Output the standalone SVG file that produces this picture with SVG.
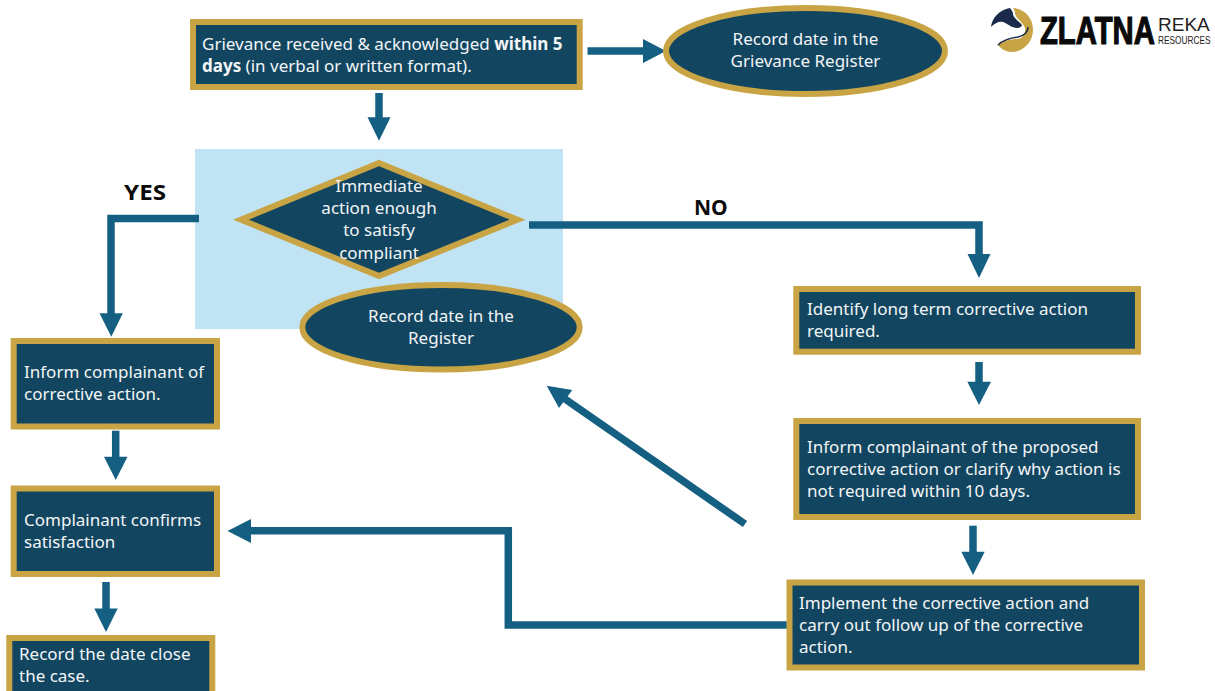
<svg xmlns="http://www.w3.org/2000/svg" width="1215" height="691" viewBox="0 0 1215 691">
<style>
.n{fill:#124660;stroke:#c9a444;stroke-width:6}
.t{font-family:"Noto Sans","Liberation Sans",sans-serif;font-size:17px;fill:#f2f5f7}
.m{text-anchor:middle}
.l{font-family:"Noto Sans","Liberation Sans",sans-serif;font-size:21px;font-weight:700;fill:#0a0a0a}
.c{fill:none;stroke:#156082;stroke-width:7.500}
.h{fill:#156082}
</style>
<rect width="1215" height="691" fill="#fff"/>
<rect id="highlight" x="195" y="149" width="368" height="180" fill="#c1e4f5"/>
<g id="connectors">
<path class="c" d="M587.500 51H645"/><path class="h" d="M643 39L666 51L643 63Z"/>
<path class="c" d="M379 93V119"/><path class="h" d="M367.500 117.300H390.500L379 140.700Z"/>
<path class="c" d="M199 218.500H111V315"/><path class="h" d="M99.500 313.300H122.800L111.300 336.700Z"/>
<path class="c" d="M529 225H979V256"/><path class="h" d="M967.500 254H990.500L979 278Z"/>
<path class="c" d="M115.700 430.700V458"/><path class="h" d="M104 456.700H127.500L115.700 480Z"/>
<path class="c" d="M106 582V610"/><path class="h" d="M94.300 608.500H117.700L106 632Z"/>
<path class="c" d="M979 362V384"/><path class="h" d="M967.300 381.700H991L979 405Z"/>
<path class="c" d="M973 525.700V553"/><path class="h" d="M961.300 551.700H984.700L973 575Z"/>
<path class="c" d="M745 524L565 399"/><path class="h" d="M546.700 385.700L572.300 390L559 408Z"/>
<path class="c" d="M790 625H508.300V530.700H248"/><path class="h" d="M251 519V543L227.500 531Z"/>
</g>
<g id="n1"><rect class="n" x="193" y="22" width="386.700" height="65"/><text class="t" x="202" y="50">Grievance received &amp; acknowledged <tspan font-weight="700">within 5</tspan></text><text class="t" x="202" y="72"><tspan font-weight="700">days</tspan> (in verbal or written format).</text></g>
<g id="n2"><ellipse class="n" cx="805.500" cy="51" rx="139.500" ry="43"/><text class="t m" x="805.500" y="45">Record date in the</text><text class="t m" x="805.500" y="67">Grievance Register</text></g>
<g id="n3"><path class="n" d="M379 163L517.500 219.700L379 276L241 219.700Z"/><text class="t m" x="379" y="192">Immediate</text><text class="t m" x="379" y="214">action enough</text><text class="t m" x="379" y="236">to satisfy</text><text class="t m" x="379" y="259">compliant</text></g>
<g id="n4"><ellipse class="n" cx="441" cy="327.300" rx="138.700" ry="42.300"/><text class="t m" x="441" y="322">Record date in the</text><text class="t m" x="441" y="344">Register</text></g>
<g id="n5"><rect class="n" x="13.700" y="341" width="203.300" height="85.500"/><text class="t" x="24" y="378">Inform complainant of</text><text class="t" x="24" y="400">corrective action.</text></g>
<g id="n6"><rect class="n" x="13.700" y="488.500" width="203.300" height="85.500"/><text class="t" x="24" y="526">Complainant confirms</text><text class="t" x="24" y="548">satisfaction</text></g>
<g id="n7"><rect class="n" x="9.300" y="638" width="203" height="56"/><text class="t" x="19" y="660">Record the date close</text><text class="t" x="19" y="682">the case.</text></g>
<g id="n8"><rect class="n" x="796.300" y="289" width="341.700" height="62.700"/><text class="t" x="807" y="315">Identify long term corrective action</text><text class="t" x="807" y="337">required.</text></g>
<g id="n9"><rect class="n" x="796.300" y="421" width="341.700" height="96"/><text class="t" x="807" y="453">Inform complainant of the proposed</text><text class="t" x="807" y="475">corrective action or clarify why action is</text><text class="t" x="807" y="497">not required within 10 days.</text></g>
<g id="n10"><rect class="n" x="789.500" y="582.500" width="352.500" height="85"/><text class="t" x="799" y="609">Implement the corrective action and</text><text class="t" x="799" y="631">carry out follow up of the corrective</text><text class="t" x="799" y="653">action.</text></g>
<text class="l" x="124" y="200" textLength="42" lengthAdjust="spacingAndGlyphs">YES</text>
<text class="l" x="694" y="215">NO</text>
<g id="logo">
<path d="M1010 8C999 10 992 18 991 27C995 23 999 21 1003 22C1008 24 1012 28 1017 28C1020 28 1022 26 1022 25C1019 21 1013 18 1013 14C1013 11 1011 10 1010 8Z" fill="#1c2b4b"/>
<path d="M1013 8C1025 9 1033 18 1033 30C1033 42 1023 52 1012 52C1006 52 1001 49 998 45C1003 41 1010 39 1018 39C1023 38 1026 33 1025 28C1023 22 1015 18 1015 13C1015 11 1014 9 1013 8Z" fill="#c9a444"/>
<path d="M998 45C1003 40 1010 38 1018 37C1024 36 1028 32 1028 27" fill="none" stroke="#1c2b4b" stroke-width="1.600"/>
<text transform="translate(1040 44) scale(.77 1)" font-family="Liberation Sans,sans-serif" font-weight="700" font-size="38" fill="#0a0a0a" stroke="#0a0a0a" stroke-width="1.200">ZLATNA</text>
<text x="1158" y="31" font-family="Liberation Sans,sans-serif" font-size="19" fill="#222">REKA</text>
<text transform="translate(1158 44) scale(.83 1)" font-family="Liberation Sans,sans-serif" font-size="10" fill="#222">RESOURCES</text>
</g>
</svg>
